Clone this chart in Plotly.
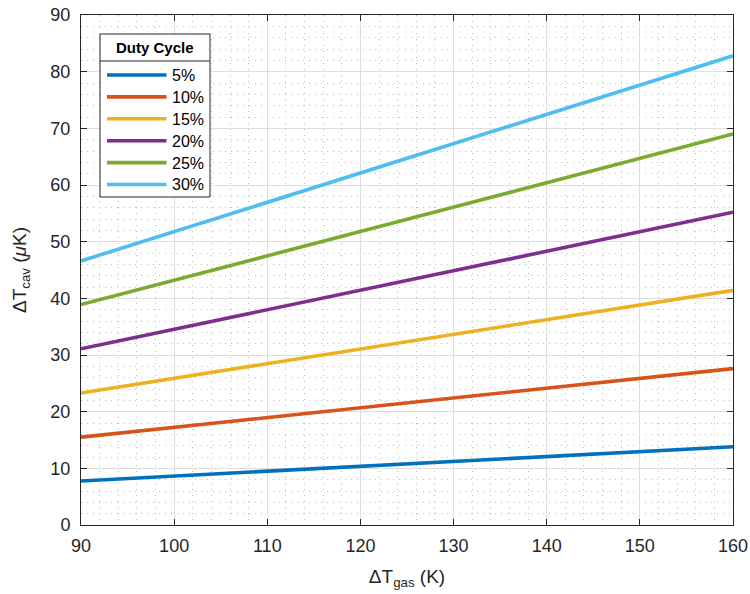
import plotly.graph_objects as go

# Temperature rise of the cavity versus gas temperature rise, per duty cycle
delta_t_gas = [90, 160]
duty_labels = ["5%", "10%", "15%", "20%", "25%", "30%"]
dt_cav_5 = [7.77, 13.8]
dt_cav_10 = [15.5, 27.6]
dt_cav_15 = [23.3, 41.4]
dt_cav_20 = [31.1, 55.2]
dt_cav_25 = [38.9, 69.0]
dt_cav_30 = [46.6, 82.8]
series = [dt_cav_5, dt_cav_10, dt_cav_15, dt_cav_20, dt_cav_25, dt_cav_30]

colors = ["#0072BD", "#D95319", "#EDB120", "#7E2F8E", "#77AC30", "#4DBEEE"]
x_ticks = [90, 100, 110, 120, 130, 140, 150, 160]
y_ticks = [0, 10, 20, 30, 40, 50, 60, 70, 80, 90]

FONT = "Liberation Sans, Arial, Helvetica, sans-serif"
INK = "#262626"

fig = go.Figure()
for label, ys, c in zip(duty_labels, series, colors):
    fig.add_trace(go.Scatter(x=delta_t_gas, y=ys, mode="lines", name=label,
                             line=dict(color=c, width=3.6), showlegend=False))

# Plot-area geometry in pixels (used to place the hand-built legend)
W, H = 750, 594
ML, MR, MT, MB = 81, 17, 15, 69
PW, PH = W - ML - MR, H - MT - MB


def px(xp):
    return (xp - ML) / PW


def py(yp):
    return 1 - (yp - MT) / PH


shapes = []
annotations = []
# legend frame and title separator
shapes.append(dict(type="rect", xref="paper", yref="paper",
                   x0=px(100), x1=px(210), y0=py(197), y1=py(34),
                   line=dict(color=INK, width=1), fillcolor="white", layer="above"))
shapes.append(dict(type="line", xref="paper", yref="paper",
                   x0=px(100), x1=px(210), y0=py(61), y1=py(61),
                   line=dict(color=INK, width=1), layer="above"))
annotations.append(dict(xref="paper", yref="paper", x=px(155), y=py(47.5),
                        text="<b>Duty Cycle</b>", showarrow=False,
                        xanchor="center", yanchor="middle",
                        font=dict(family=FONT, size=15, color="black")))
for i, (label, c) in enumerate(zip(duty_labels, colors)):
    yc = 75 + i * 21.9
    shapes.append(dict(type="line", xref="paper", yref="paper",
                       x0=px(107), x1=px(166.5), y0=py(yc), y1=py(yc),
                       line=dict(color=c, width=3.6), layer="above"))
    annotations.append(dict(xref="paper", yref="paper", x=px(170), y=py(yc + 0.5),
                            text=label, showarrow=False,
                            xanchor="left", yanchor="middle",
                            font=dict(family=FONT, size=16, color="black")))

axis_common = dict(
    showline=True, linecolor=INK, linewidth=1, mirror="ticks",
    ticks="inside", ticklen=6, tickwidth=1, tickcolor=INK,
    showgrid=True, gridcolor="#dedede", gridwidth=1,
    zeroline=False, automargin=False,
    tickfont=dict(family=FONT, size=18, color=INK),
    minor=dict(dtick=2, showgrid=True, gridcolor="#bdbdbd", griddash="1px,5px",
               gridwidth=1, ticks=""),
)

fig.update_layout(
    width=W, height=H,
    margin=dict(l=ML, r=MR, t=MT, b=MB),
    paper_bgcolor="white", plot_bgcolor="white",
    font=dict(family=FONT, color=INK),
    shapes=shapes, annotations=annotations,
    xaxis=dict(range=[90, 160], tickvals=x_ticks, ticklabelstandoff=4,
               title=dict(text="ΔT<sub>gas</sub> (K)", standoff=15,
                          font=dict(family=FONT, size=19, color=INK)),
               **axis_common),
    yaxis=dict(range=[0, 90], tickvals=y_ticks, ticklabelstandoff=6,
               title=dict(text="ΔT<sub>cav</sub> (<i>μ</i>K)", standoff=18,
                          font=dict(family=FONT, size=19, color=INK)),
               **axis_common),
)

fig.write_html("out.html")
